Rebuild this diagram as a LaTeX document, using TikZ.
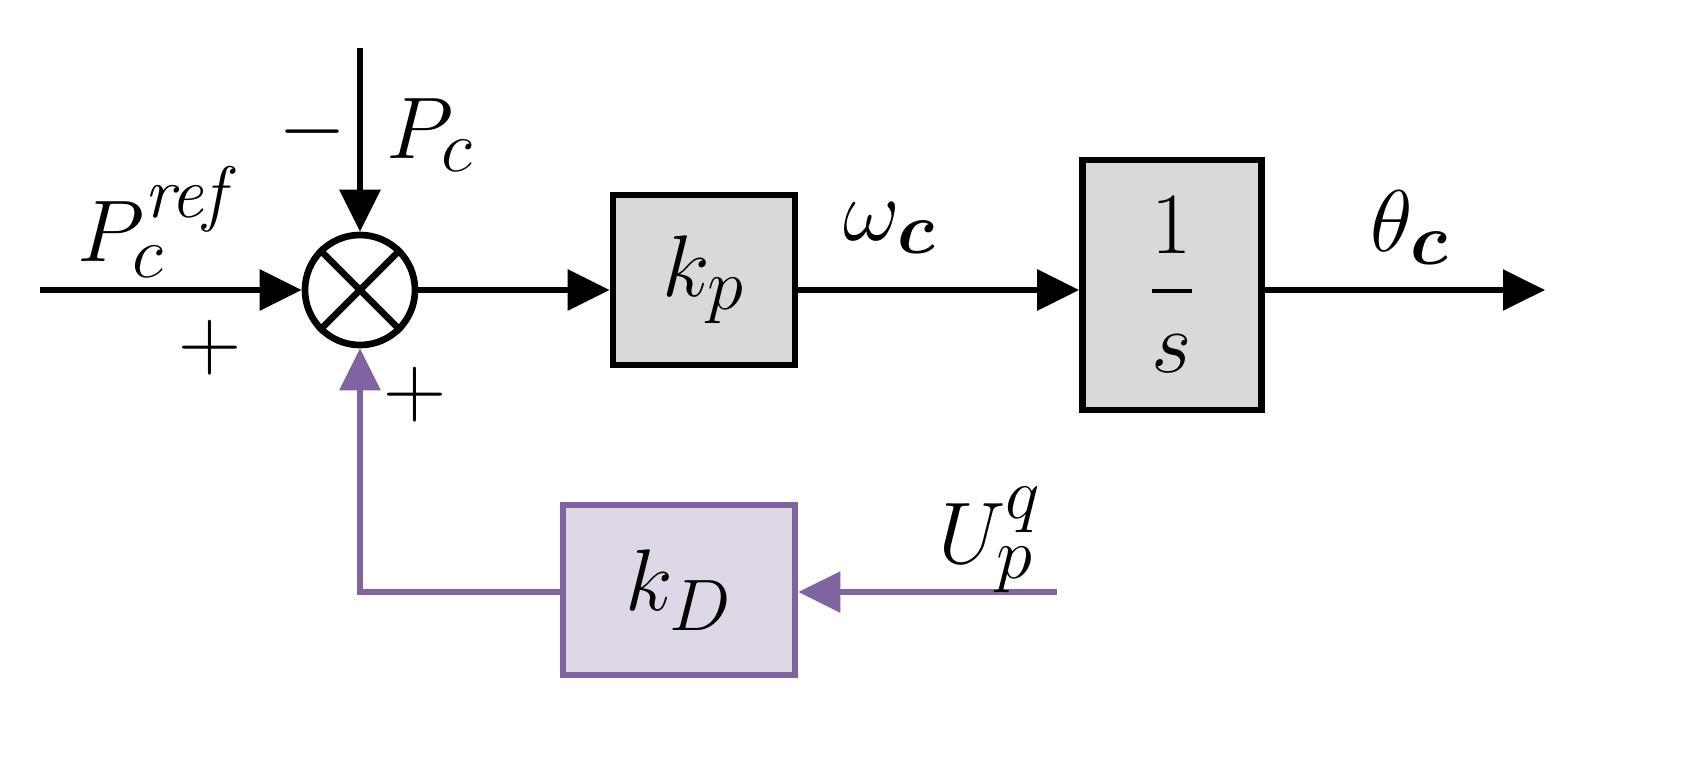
\documentclass[tikz,border=0pt]{standalone}
\usepackage{amsmath,bm}
\usetikzlibrary{arrows.meta}
\definecolor{boxgray}{RGB}{217,217,217}
\definecolor{purp}{RGB}{128,100,162}
\definecolor{lpurp}{RGB}{222,215,230}
\begin{document}
\begin{tikzpicture}[x=0.01cm,y=-0.01cm,
  sig/.style={line width=1.7pt,-{Triangle[length=0.42cm,width=0.4cm]}},
  blk/.style={draw,line width=1.9pt,fill=boxgray,inner sep=0pt},
  lbl/.style={font=\fontsize{30}{34}\selectfont},
  sgn/.style={font=\fontsize{30}{34}\selectfont}]
\useasboundingbox (0,0) rectangle (1698,773);
\node[circle,draw,line width=1.9pt,minimum size=1.1cm,inner sep=0pt] (sum) at (360,290) {};
\draw[line width=1.9pt] (sum.north west)--(sum.south east) (sum.north east)--(sum.south west);
\node[blk,minimum width=1.82cm,minimum height=1.7cm,lbl] (kp) at (704,280) {$k_p$};
\node[blk,minimum width=1.79cm,minimum height=2.5cm,lbl] (is) at (1172,285) {$\dfrac{1}{s}$};
\node[blk,draw=purp,fill=lpurp,minimum width=2.32cm,minimum height=1.7cm,lbl] (kd) at (679,590) {$k_D$};
\coordinate (in) at (40,290);
\coordinate (top) at (360,48);
\coordinate (out) at (1545,290);
\coordinate (uin) at (1057,592);
\coordinate (corner) at (360,592);
\draw[sig] (in) -- (sum);
\draw[sig] (top) -- (sum);
\draw[sig] (sum) -- (sum-|kp.west);
\draw[sig] (kp.east|-sum) -- (sum-|is.west);
\draw[sig] (is.east|-out) -- (out);
\draw[sig,purp] (uin) -- (kd.east|-uin);
\draw[sig,purp] (kd.west|-corner) -- (corner) -- (sum);
\node[lbl] (pref) at (160,222) {$P_c^{\mathit{ref}}$};
\node[sgn] (p1) at (210,348) {$+$};
\node[sgn] (m1) at (313,132) {$-$};
\node[lbl] (pc) at (430,135) {$P_c$};
\node[sgn] (p2) at (415,395) {$+$};
\node[lbl] (wc) at (890,228) {$\omega_{\bm{c}}$};
\node[lbl] (tc) at (1410,228) {$\theta_{\bm{c}}$};
\node[lbl] (upq) at (990,540) {$U_p^q$};
\end{tikzpicture}
\end{document}
